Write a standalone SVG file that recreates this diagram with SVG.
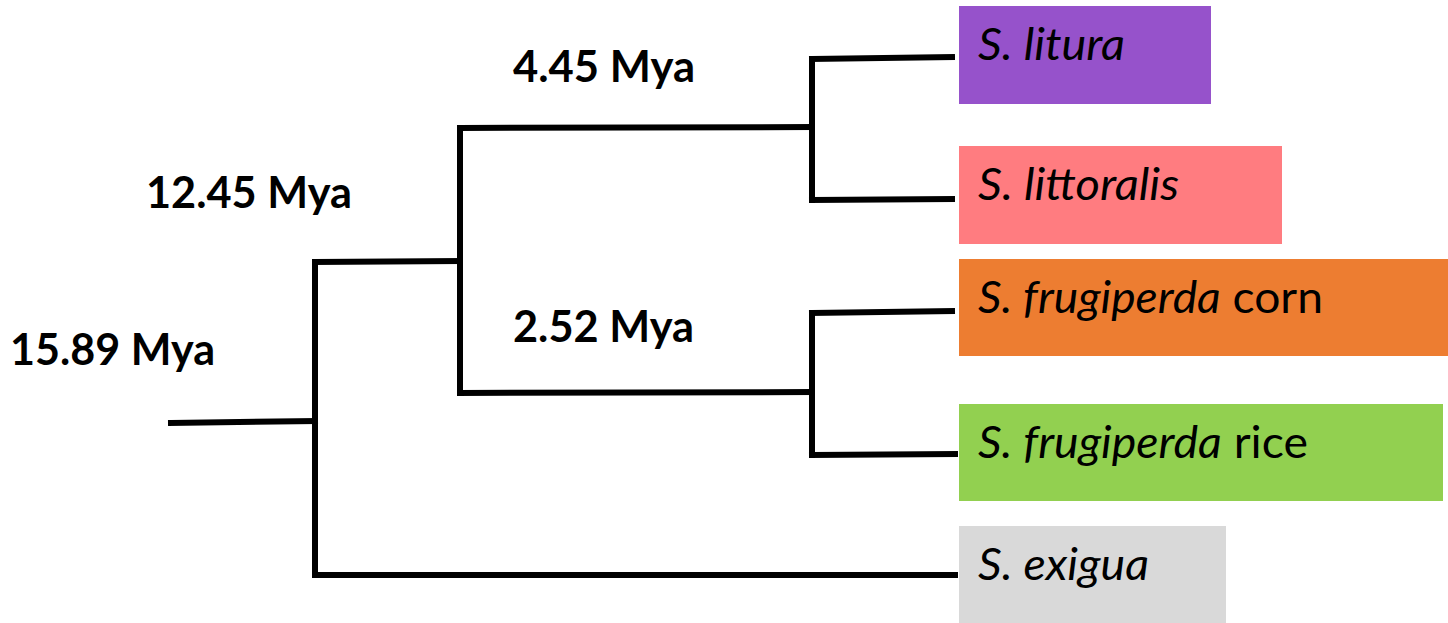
<svg xmlns="http://www.w3.org/2000/svg" width="1448" height="623" viewBox="0 0 1448 623">
<style>
.lbl{font-family:Lato,"Liberation Sans",sans-serif;font-weight:bold;font-size:44px;fill:#000}
.sp{font-family:Lato,"Liberation Sans",sans-serif;font-size:44px;fill:#000}
.it{font-style:italic}
.br{fill:none;stroke:#000;stroke-width:6;stroke-linecap:square;stroke-linejoin:miter}
</style>
<rect width="1448" height="623" fill="#fff"/>
<g id="connectors">
<path class="br" d="M171,423 L315,421"/>
<path class="br" d="M315,262 L315,575"/>
<path class="br" d="M315,262 L460,261"/>
<path class="br" d="M315,575 L955,575"/>
<path class="br" d="M460,128 L460,393"/>
<path class="br" d="M460,128 L812,127"/>
<path class="br" d="M460,393 L812,392"/>
<path class="br" d="M812,59 L812,200"/>
<path class="br" d="M812,59 L952,57"/>
<path class="br" d="M812,200 L952,199"/>
<path class="br" d="M812,313 L812,455"/>
<path class="br" d="M812,313 L952,311"/>
<path class="br" d="M812,455 L955,454"/>
</g>
<g id="label-1589"><text class="lbl" x="10" y="365" textLength="205" lengthAdjust="spacingAndGlyphs">15.89 Mya</text></g>
<g id="label-1245"><text class="lbl" x="146" y="208" textLength="206" lengthAdjust="spacingAndGlyphs">12.45 Mya</text></g>
<g id="label-445"><text class="lbl" x="513" y="82" textLength="182" lengthAdjust="spacingAndGlyphs">4.45 Mya</text></g>
<g id="label-252"><text class="lbl" x="513" y="342" textLength="181" lengthAdjust="spacingAndGlyphs">2.52 Mya</text></g>
<g id="node-litura">
<rect x="959" y="6" width="252" height="98" fill="#9652CB"/>
<text class="sp it" x="978" y="60" textLength="147" lengthAdjust="spacingAndGlyphs">S. litura</text>
</g>
<g id="node-littoralis">
<rect x="959" y="146" width="323" height="98" fill="#FF7C80"/>
<text class="sp it" x="978" y="200" textLength="201" lengthAdjust="spacingAndGlyphs">S. littoralis</text>
</g>
<g id="node-corn">
<rect x="959" y="259" width="489" height="97" fill="#ED7D31"/>
<text class="sp" x="978" y="313" textLength="345" lengthAdjust="spacingAndGlyphs"><tspan class="it">S. frugiperda</tspan> corn</text>
</g>
<g id="node-rice">
<rect x="959" y="404" width="484" height="97" fill="#92D050"/>
<text class="sp" x="978" y="458" textLength="330" lengthAdjust="spacingAndGlyphs"><tspan class="it">S. frugiperda</tspan> rice</text>
</g>
<g id="node-exigua">
<rect x="959" y="526" width="267" height="97" fill="#D9D9D9"/>
<text class="sp it" x="978" y="580" textLength="171" lengthAdjust="spacingAndGlyphs">S. exigua</text>
</g>
</svg>
